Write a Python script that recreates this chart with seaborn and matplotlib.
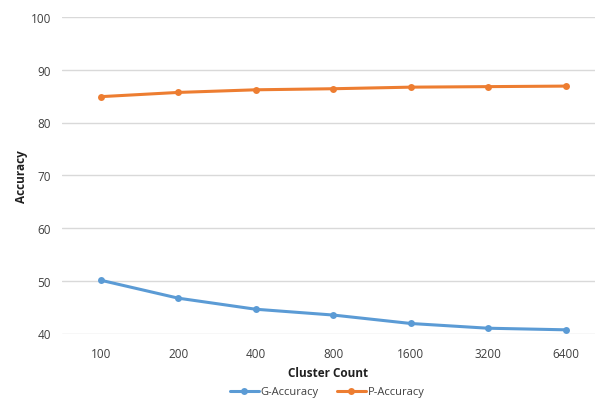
import matplotlib
matplotlib.use("Agg")
import matplotlib.pyplot as plt
import seaborn as sns
import pandas as pd

clusters = ["100", "200", "400", "800", "1600", "3200", "6400"]
g_accuracy = [50.1, 46.7, 44.6, 43.5, 41.9, 41.0, 40.7]
p_accuracy = [84.9, 85.7, 86.2, 86.4, 86.7, 86.8, 86.9]

df = pd.DataFrame({
    "Cluster Count": clusters * 2,
    "Accuracy": g_accuracy + p_accuracy,
    "Series": ["G-Accuracy"] * len(clusters) + ["P-Accuracy"] * len(clusters),
})

sns.set_theme(style="white")
plt.rcParams["font.family"] = ["Open Sans", "DejaVu Sans"]

fig = plt.figure(figsize=(5.95, 4.02), dpi=100)
ax = fig.add_axes([62/595, 1-334.5/402, 1-62/595, (334.5-18)/402])

palette = {"G-Accuracy": "#5B9BD5", "P-Accuracy": "#ED7D31"}
sns.lineplot(data=df, x="Cluster Count", y="Accuracy", hue="Series", palette=palette,
             marker="o", markersize=5, markeredgewidth=0, linewidth=2.2, ax=ax, legend=False, sort=False)

ax.set_ylim(40, 100)
ax.set_yticks(range(40, 101, 10))
ax.set_xlim(-0.5, 6.38)
ax.grid(axis="y", color="#D9D9D9", linewidth=1)
ax.set_axisbelow(True)
for s in ax.spines.values():
    s.set_visible(False)
ax.tick_params(axis="both", length=0, labelsize=8.5, colors="#404040", pad=8)
ax.tick_params(axis="x", pad=10)
ax.set_xlabel("Cluster Count", fontsize=8.5, fontweight="bold", color="#202020", labelpad=4)
ax.set_ylabel("Accuracy", fontsize=8.5, fontweight="bold", color="#202020", labelpad=2)

from matplotlib.lines import Line2D
handles = [Line2D([], [], color=palette[k], marker="o", markersize=5, markeredgewidth=0, linewidth=2.2) for k in palette]
fig.legend(handles, list(palette.keys()), loc="lower center", bbox_to_anchor=(0.55, -0.016), ncol=2,
           frameon=False, fontsize=8, handlelength=2.6, columnspacing=1.6, handletextpad=0.2,
           labelcolor="#404040")

fig.savefig("out.png", dpi=100)
